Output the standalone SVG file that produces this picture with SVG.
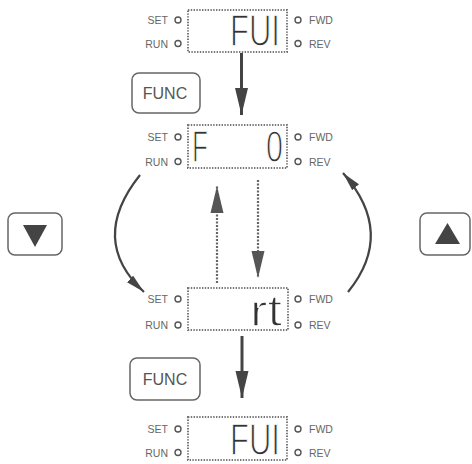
<svg xmlns="http://www.w3.org/2000/svg" width="472" height="464" viewBox="0 0 472 464">
<style>
.lbl{font-family:"Liberation Sans",Arial,sans-serif;font-size:10.5px;fill:#666}
.led{fill:none;stroke:#555;stroke-width:1.4}
.disp{fill:none;stroke:#777;stroke-width:2;stroke-dasharray:1.4 1.4}
.seg{font-family:"Liberation Sans",Arial,sans-serif;font-size:44px;fill:#333;stroke:#fff;stroke-width:1.3}
.btn{fill:#fff;stroke:#666;stroke-width:1.5}
.btxt{font-family:"Liberation Sans",Arial,sans-serif;font-size:16px;fill:#555;text-anchor:middle}
.solid{fill:none;stroke:#444;stroke-width:3}
.arc{fill:none;stroke:#444;stroke-width:2.2}
.dot{fill:none;stroke:#666;stroke-width:2.2;stroke-dasharray:2 1.5}
</style>
<defs>
<marker id="hb" markerUnits="userSpaceOnUse" markerWidth="28" markerHeight="14" refX="27" refY="7" orient="auto"><path d="M0,0.5 L27,7 L0,13.5 z" fill="#444"/></marker>
<marker id="hd" markerUnits="userSpaceOnUse" markerWidth="28" markerHeight="14" refX="27" refY="7" orient="auto"><path d="M0,0.5 L27,7 L0,13.5 z" fill="#555"/></marker>
<marker id="ha" markerUnits="userSpaceOnUse" markerWidth="20" markerHeight="10" refX="19" refY="5" orient="auto"><path d="M0,0.5 L19,5 L0,9.5 z" fill="#444"/></marker>
</defs>

<g id="display1">
<rect class="disp" x="188" y="10" width="99" height="42"/>
<text class="lbl" x="168" y="24" text-anchor="end">SET</text>
<text class="lbl" x="168" y="47.5" text-anchor="end">RUN</text>
<circle class="led" cx="178" cy="20" r="3"/>
<circle class="led" cx="178" cy="43.5" r="3"/>
<circle class="led" cx="298" cy="20" r="3"/>
<circle class="led" cx="298" cy="43.5" r="3"/>
<text class="lbl" x="309" y="24">FWD</text>
<text class="lbl" x="309" y="47.5">REV</text>
<text class="seg" x="230" y="46" textLength="50" lengthAdjust="spacingAndGlyphs">FUI</text>
</g>

<g id="display2">
<rect class="disp" x="188" y="125" width="99" height="43"/>
<text class="lbl" x="168" y="141" text-anchor="end">SET</text>
<text class="lbl" x="168" y="165.5" text-anchor="end">RUN</text>
<circle class="led" cx="178" cy="137" r="3"/>
<circle class="led" cx="178" cy="161.5" r="3"/>
<circle class="led" cx="298" cy="137" r="3"/>
<circle class="led" cx="298" cy="161.5" r="3"/>
<text class="lbl" x="309" y="141">FWD</text>
<text class="lbl" x="309" y="165.5">REV</text>
<text class="seg" x="192" y="162" textLength="16" lengthAdjust="spacingAndGlyphs">F</text>
<text class="seg" x="266" y="162" textLength="17" lengthAdjust="spacingAndGlyphs">0</text>
</g>

<g id="display3">
<rect class="disp" x="188" y="288" width="100" height="42"/>
<text class="lbl" x="168" y="303" text-anchor="end">SET</text>
<text class="lbl" x="168" y="329" text-anchor="end">RUN</text>
<circle class="led" cx="178" cy="299" r="3"/>
<circle class="led" cx="178" cy="325" r="3"/>
<circle class="led" cx="298" cy="299" r="3"/>
<circle class="led" cx="298" cy="325" r="3"/>
<text class="lbl" x="309" y="303">FWD</text>
<text class="lbl" x="309" y="329">REV</text>
<text class="seg" x="250" y="326" textLength="32" lengthAdjust="spacingAndGlyphs">rt</text>
</g>

<g id="display4">
<rect class="disp" x="188" y="417" width="99" height="43"/>
<text class="lbl" x="168" y="433" text-anchor="end">SET</text>
<text class="lbl" x="168" y="456.5" text-anchor="end">RUN</text>
<circle class="led" cx="178" cy="429" r="3"/>
<circle class="led" cx="178" cy="452.5" r="3"/>
<circle class="led" cx="298" cy="429" r="3"/>
<circle class="led" cx="298" cy="452.5" r="3"/>
<text class="lbl" x="309" y="433">FWD</text>
<text class="lbl" x="309" y="456.5">REV</text>
<text class="seg" x="230" y="455" font-size="40" textLength="50" lengthAdjust="spacingAndGlyphs">FUI</text>
</g>

<g id="func1">
<rect class="btn" x="132" y="73" width="68" height="40" rx="7"/>
<text class="btxt" x="165" y="99">FUNC</text>
</g>
<g id="func2">
<rect class="btn" x="130" y="358" width="70" height="42" rx="7"/>
<text class="btxt" x="165" y="385">FUNC</text>
</g>
<g id="downkey">
<rect class="btn" x="8" y="213" width="54" height="42" rx="7"/>
<path d="M23,225 L47,225 L35,247 z" fill="#444"/>
</g>
<g id="upkey">
<rect class="btn" x="420" y="213" width="50" height="42" rx="7"/>
<path d="M435,244 L460,244 L447.5,223 z" fill="#444"/>
</g>

<g id="connectors">
<line class="solid" x1="241.5" y1="53" x2="241.5" y2="115" marker-end="url(#hb)"/>
<line class="solid" x1="242" y1="336" x2="242" y2="398" marker-end="url(#hb)"/>
<line class="dot" x1="217" y1="283" x2="217" y2="186" marker-end="url(#hd)"/>
<line class="dot" x1="258" y1="180" x2="258" y2="278" marker-end="url(#hd)"/>
<path class="arc" d="M140,175 Q88,240 144,292" marker-end="url(#ha)"/>
<path class="arc" d="M348,292 Q396,233 343,173" marker-end="url(#ha)"/>
</g>
</svg>
